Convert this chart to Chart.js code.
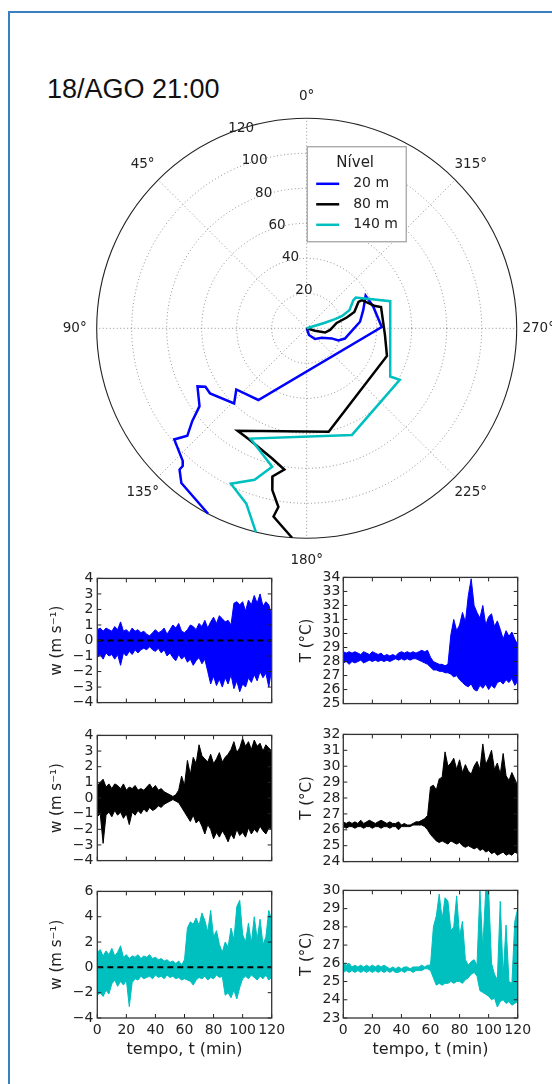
<!DOCTYPE html>
<html>
<head>
<meta charset="utf-8">
<script src="https://cdn.jsdelivr.net/npm/chart.js@4.4.0/dist/chart.umd.min.js"></script>
<style>
html, body { margin: 0; padding: 0; background: #fff; }
body { width: 552px; height: 1084px; position: relative; overflow: hidden; font-family: "DejaVu Sans", sans-serif; }
.frame { position: absolute; left: 8px; top: 11px; width: 700px; height: 1200px; border-left: 2px solid #3a7fc0; border-top: 2px solid #3a7fc0; }
.title { position: absolute; left: 47px; top: 76px; font: 27px "Liberation Sans", Arial, sans-serif; line-height: 27px; color: #111; white-space: nowrap; }
canvas { position: absolute; }
</style>
</head>
<body>
<div class="frame"></div>
<div class="title">18/AGO 21:00</div>
<script>
// ---- polar plot: direction (deg) vs time (min), one line per level ----
const niveis = ["20 m", "80 m", "140 m"];
const cores = ["#0000ff", "#000000", "#00bfbf"];
const rTicks = [20, 40, 60, 80, 100, 120];
const angTicks = [0, 45, 90, 135, 180, 225, 270, 315];

const t20 = [0, 4.0, 7.7, 10.1, 15.4, 19.4, 22.6, 24.9, 30.7, 34.0, 38.5, 40.0, 42.9, 49.4, 53.3, 59.7, 66.6, 66.8, 70.7, 75.7, 84.1, 91.8, 98.8, 103.8, 105.9, 108.6, 113.8, 120];
const dir20 = [200, 199, 218, 238, 248, 249, 255, 264, 277, 288, 299, 288, 271, 146, 131, 136, 124, 120, 118, 126, 129, 132, 130, 137, 138, 138, 141, 152];
const t80 = [0, 4.9, 10.8, 13.4, 17.4, 23.7, 28.8, 33.2, 35.4, 41.1, 44.2, 44.9, 48.5, 60.4, 70.6, 71.6, 76.9, 81.7, 86.9, 94.5, 103.4, 109.2, 112.5, 120];
const dir80 = [250, 254, 257, 266, 280, 285, 289, 297, 297, 288, 286, 265, 251, 192, 146, 153, 165, 171, 167, 168, 171, 170, 172, 176];
const t140 = [0, 5.0, 10.9, 17.0, 21.2, 26.5, 31.1, 33.1, 50.2, 55.1, 60.8, 66.2, 70.7, 81.6, 91.5, 98.8, 106.0, 120];
const dir140 = [287, 287, 287, 288, 289, 293, 301, 302, 288, 240, 241, 203, 153, 166, 161, 154, 161, 166];

// ---- time series: min / max envelope every 2 min ----
const tempo = [0,2,4,6,8,10,12,14,16,18,20,22,24,26,28,30,32,34,36,38,40,42,44,46,48,50,52,54,56,58,60,62,64,66,68,70,72,74,76,78,80,82,84,86,88,90,92,94,96,98,100,102,104,106,108,110,112,114,116,118,120];
const xTicks = [0, 20, 40, 60, 80, 100, 120];

const w20Max = [0.7,0.8,0.6,0.8,0.7,0.6,0.9,0.7,1.2,0.6, 0.7,0.5,0.8,0.6,0.7,0.5,0.6,0.4,0.3,0.5, 0.7,0.5,0.6,0.8,0.4,0.7,1.0,0.8,1.1,0.6, 0.5,0.7,1.0,0.9,0.7,1.1,0.9,1.3,0.8,1.2, 1.5,1.1,1.6,1.4,1.2,1.3,1.0,2.4,2.5,2.3, 2.5,1.9,2.6,2.3,2.9,2.4,3.0,2.2,2.5,2.3, 1.6];
const w20Min = [-1.1,-0.9,-1.2,-0.8,-1.0,-0.9,-1.2,-0.9,-1.6,-0.8, -1.0,-0.7,-0.9,-0.6,-0.8,-0.6,-0.5,-0.6,-0.4,-0.6, -0.7,-0.5,-0.8,-0.6,-1.0,-0.8,-1.1,-1.3,-0.9,-1.2, -1.0,-1.4,-1.2,-1.6,-1.3,-1.1,-1.5,-1.2,-2.0,-2.8, -2.3,-2.9,-2.5,-3.0,-2.4,-2.8,-2.2,-3.1,-2.6,-3.3, -2.8,-3.0,-2.4,-2.7,-2.2,-2.6,-2.0,-2.4,-2.1,-3.0, -1.8];
const w80Max = [0.8,1.0,1.2,0.7,0.9,0.6,0.9,0.8,0.6,0.9, 0.5,0.7,0.6,0.8,0.5,0.6,0.5,0.7,0.9,0.6, 0.8,0.5,0.6,0.4,0.3,0.2,0.1,0.2,0.5,1.4, 0.8,2.4,1.5,2.6,2.2,3.4,2.7,2.5,2.3,2.8, 2.2,2.5,2.9,2.3,2.6,2.8,3.1,3.6,2.9,3.2, 3.8,3.3,3.6,3.1,3.7,3.3,3.5,3.0,3.4,3.2, 3.0];
const w80Min = [-1.2,-1.0,-2.9,-1.1,-0.9,-1.2,-0.8,-1.1,-0.9,-1.3, -1.0,-1.7,-0.9,-1.1,-0.8,-1.0,-0.7,-0.9,-0.6,-0.8, -0.7,-0.5,-0.6,-0.4,-0.3,-0.2,-0.1,-0.2,-0.3,-0.6, -0.9,-1.2,-1.5,-1.1,-1.6,-1.4,-1.8,-2.3,-1.7,-2.0, -2.6,-2.2,-2.5,-2.1,-2.4,-2.8,-2.3,-2.6,-2.0,-2.4, -2.2,-2.5,-1.9,-2.3,-2.0,-2.2,-1.8,-2.1,-2.3,-1.9, -2.0];
const w140Max = [1.2,1.4,0.9,1.3,1.0,1.5,0.9,1.2,1.7,0.8, 1.0,0.7,0.9,0.8,1.0,0.7,0.9,0.8,1.0,0.7, 0.8,0.6,0.7,0.5,0.6,0.4,0.5,0.3,0.5,0.2, 0.6,3.1,3.6,3.4,3.9,3.3,4.3,3.7,2.8,4.5, 2.4,2.9,1.8,1.2,2.0,1.6,3.1,2.2,4.8,5.3, 2.6,2.0,3.5,1.9,4.0,2.2,3.8,1.8,2.4,4.5, 3.7];
const w140Min = [-2.2,-2.0,-2.3,-1.8,-2.1,-1.3,-1.0,-1.5,-1.1,-1.4, -1.0,-3.1,-1.2,-0.9,-1.0,-0.7,-0.9,-0.8,-0.7,-0.9, -0.6,-0.8,-0.7,-0.9,-0.6,-0.8,-0.7,-0.9,-0.8,-1.0, -0.9,-1.0,-1.1,-1.4,-1.0,-0.8,-0.9,-0.7,-1.0,-0.8, -0.9,-0.6,-0.8,-0.7,-2.2,-2.0,-2.4,-1.8,-2.5,-1.6, -0.9,-0.7,-0.9,-0.6,-0.8,-1.0,-0.7,-0.9,-0.6,-1.0, -0.8];

const T20Max = [28.7,28.6,28.7,28.6,28.7,28.6,28.5,28.7,28.6,28.5, 28.7,28.6,28.5,28.6,28.4,28.5,28.4,28.5,28.4,28.6, 28.7,28.6,28.7,28.6,28.7,28.6,28.7,28.8,28.7,28.8, 28.3,28.0,27.9,27.8,27.8,27.7,27.8,29.9,31.0,30.2, 30.6,31.5,30.8,32.7,33.9,32.0,31.5,31.1,32.0,30.6, 31.2,31.4,30.5,30.9,30.3,29.6,30.2,29.8,30.1,29.6, 29.2];
const T20Min = [27.9,28.0,27.8,28.0,27.9,28.0,28.1,27.9,28.0,28.1, 28.0,28.1,28.0,28.1,28.0,28.1,28.0,28.1,28.2,28.1, 28.2,28.1,28.2,28.1,28.2,28.2,28.1,28.0,27.9,27.8, 27.6,27.4,27.4,27.3,27.3,27.2,27.2,27.1,26.9,27.0, 26.7,26.5,26.3,26.2,26.4,26.0,25.9,26.3,26.1,26.4, 26.0,26.3,26.1,26.5,26.6,26.4,26.7,26.5,26.8,26.3, 26.6];
const T80Max = [26.5,26.4,26.5,26.4,26.5,26.4,26.6,26.4,26.5,26.6, 26.5,26.4,26.5,26.6,26.5,26.4,26.5,26.4,26.4,26.5, 26.3,26.4,26.3,26.3,26.4,26.5,26.5,26.6,26.7,26.9, 28.7,28.8,28.5,29.2,29.3,30.9,30.0,30.2,30.5,29.8, 30.4,29.6,30.1,29.7,29.5,30.0,30.3,29.8,31.4,30.1, 30.5,31.0,29.8,30.2,29.5,30.8,29.4,29.1,29.6,29.2, 28.7];
const T80Min = [26.2,26.1,26.2,26.2,26.1,26.2,26.2,26.1,26.2,26.2, 26.1,26.2,26.2,26.1,26.2,26.2,26.1,26.2,26.2,26.0, 26.2,26.2,26.2,26.2,26.3,26.3,26.3,26.3,26.2,26.0, 25.7,25.5,25.3,25.2,25.3,25.2,25.1,25.3,25.2,25.1, 25.2,25.0,24.9,25.0,24.9,24.8,24.9,24.7,24.8,24.6, 24.7,24.5,24.6,24.4,24.5,24.6,24.4,24.5,24.4,24.6, 24.5];
const T140Max = [26.0,25.9,26.0,25.8,25.9,25.8,25.9,25.8,25.9,25.8, 25.9,25.8,25.9,25.8,25.9,25.8,25.7,25.8,25.7,25.8, 25.7,25.8,25.8,25.7,25.8,25.8,25.8,25.9,25.8,25.9, 25.9,28.0,28.6,29.8,28.4,29.6,29.4,27.8,28.0,29.7, 27.5,28.3,26.2,25.9,26.1,26.2,25.9,30.0,26.8,30.0, 30.0,26.0,25.4,25.1,29.4,25.3,28.1,25.0,24.9,28.3, 29.0];
const T140Min = [25.5,25.6,25.5,25.6,25.5,25.6,25.5,25.6,25.5,25.6, 25.5,25.6,25.5,25.6,25.5,25.6,25.5,25.6,25.5,25.5, 25.6,25.5,25.6,25.6,25.5,25.6,25.6,25.6,25.7,25.7, 25.6,25.2,24.8,24.9,24.8,24.9,24.9,25.0,24.9,25.0, 25.0,24.9,25.1,25.2,25.4,25.5,25.3,24.5,24.4,24.3, 24.2,24.0,24.1,23.6,23.9,24.0,23.8,23.9,23.7,23.8, 23.9];

Chart.defaults.font.family = '"DejaVu Sans", sans-serif';
Chart.defaults.color = '#222';

function addCanvas(id, left, top, w, h) {
    const c = document.createElement('canvas');
    c.id = id; c.width = w; c.height = h;
    c.style.left = left + 'px'; c.style.top = top + 'px';
    c.style.width = w + 'px'; c.style.height = h + 'px';
    document.body.appendChild(c);
    return c;
}

function toXY(ts, ds) {
    return ts.map((t, i) => ({
        x: -t * Math.sin(ds[i] * Math.PI / 180),
        y: t * Math.cos(ds[i] * Math.PI / 180)
    }));
}

const polarGrid = {
    id: 'polarGrid',
    beforeDatasetsDraw(chart) {
        const {ctx, scales: {x, y}} = chart;
        const cx = x.getPixelForValue(0), cy = y.getPixelForValue(0);
        const rad = v => x.getPixelForValue(v) - cx;
        const R = rad(120);
        ctx.save();
        ctx.strokeStyle = 'rgba(0,0,0,0.55)';
        ctx.lineWidth = 0.8;
        ctx.setLineDash([1, 2.5]);
        rTicks.forEach(r => {
            if (r >= 120) return;
            ctx.beginPath(); ctx.arc(cx, cy, rad(r), 0, 2 * Math.PI); ctx.stroke();
        });
        angTicks.forEach(a => {
            const th = a * Math.PI / 180;
            ctx.beginPath(); ctx.moveTo(cx, cy);
            ctx.lineTo(cx - R * Math.sin(th), cy - R * Math.cos(th)); ctx.stroke();
        });
        ctx.setLineDash([]);
        ctx.strokeStyle = '#222'; ctx.lineWidth = 1.1;
        ctx.beginPath(); ctx.arc(cx, cy, R, 0, 2 * Math.PI); ctx.stroke();

        ctx.fillStyle = '#222';
        ctx.font = '13.5px "DejaVu Sans"';
        ctx.textAlign = 'center'; ctx.textBaseline = 'middle';
        angTicks.forEach(a => {
            const th = a * Math.PI / 180;
            ctx.fillText(a + '°', cx - (R + 22) * Math.sin(th), cy - (R + 22) * Math.cos(th));
        });
        const lab = 22.5 * Math.PI / 180;
        ctx.textAlign = 'left'; ctx.textBaseline = 'bottom';
        rTicks.forEach(r => {
            ctx.fillText(String(r), cx - rad(r) * Math.sin(lab) + 2, cy - rad(r) * Math.cos(lab) + 1);
        });
        ctx.restore();
    },
    afterDraw(chart) {
        const {ctx, chartArea: a} = chart;
        const lx = a.left + 210.5, ly = a.top + 28.5, lw = 99, lh = 95;
        ctx.save();
        ctx.fillStyle = '#fff';
        ctx.fillRect(lx, ly, lw, lh);
        ctx.strokeStyle = '#8a8a8a'; ctx.lineWidth = 1;
        ctx.strokeRect(lx, ly, lw, lh);
        ctx.fillStyle = '#222';
        ctx.font = '15px "DejaVu Sans"';
        ctx.textAlign = 'center'; ctx.textBaseline = 'middle';
        ctx.fillText('Nível', lx + 48, ly + 16);
        ctx.font = '14px "DejaVu Sans"';
        ctx.textAlign = 'left';
        chart.data.datasets.forEach((d, i) => {
            const yy = ly + 37 + i * 20.5;
            ctx.strokeStyle = d.borderColor; ctx.lineWidth = 2.5;
            ctx.beginPath(); ctx.moveTo(lx + 9, yy); ctx.lineTo(lx + 32, yy); ctx.stroke();
            ctx.fillText(d.label, lx + 46, yy);
        });
        ctx.restore();
    }
};

const polarCanvas = addCanvas('polar', 0, 0, 552, 575);
new Chart(polarCanvas, {
    type: 'scatter',
    data: {
        datasets: [
            {label: niveis[0], data: toXY(t20, dir20), borderColor: cores[0], order: 3},
            {label: niveis[1], data: toXY(t80, dir80), borderColor: cores[1], order: 2},
            {label: niveis[2], data: toXY(t140, dir140), borderColor: cores[2], order: 1}
        ].map(d => Object.assign(d, {showLine: true, pointRadius: 0, borderWidth: 2.5, fill: false, tension: 0}))
    },
    options: {
        responsive: false, animation: false, events: [],
        layout: {padding: {left: 96.7, top: 118.3, right: 35.3, bottom: 36.7}},
        scales: {
            x: {type: 'linear', min: -120, max: 120, display: false},
            y: {type: 'linear', min: -120, max: 120, display: false}
        },
        plugins: {legend: {display: false}, tooltip: {enabled: false}}
    },
    plugins: [polarGrid]
});

// ---- time series panels ----
const frameTicks = {
    id: 'frameTicks',
    afterDatasetsDraw(chart, args, opts) {
        const {ctx, chartArea: a, scales: {x, y}} = chart;
        ctx.save();
        if (opts.zero) {
            const py = y.getPixelForValue(0);
            ctx.strokeStyle = '#000'; ctx.lineWidth = 2; ctx.setLineDash([6, 4]);
            ctx.beginPath(); ctx.moveTo(a.left, py); ctx.lineTo(a.right, py); ctx.stroke();
            ctx.setLineDash([]);
        }
        ctx.strokeStyle = '#222'; ctx.lineWidth = 1;
        const L = 4;
        ctx.beginPath();
        x.ticks.forEach(t => {
            const px = x.getPixelForValue(t.value);
            ctx.moveTo(px, a.top); ctx.lineTo(px, a.top + L);
            ctx.moveTo(px, a.bottom); ctx.lineTo(px, a.bottom - L);
        });
        y.ticks.forEach(t => {
            const py = y.getPixelForValue(t.value);
            ctx.moveTo(a.left, py); ctx.lineTo(a.left + L, py);
            ctx.moveTo(a.right, py); ctx.lineTo(a.right - L, py);
        });
        ctx.stroke();
        ctx.strokeStyle = '#333'; ctx.lineWidth = 1.3;
        ctx.strokeRect(a.left, a.top, a.right - a.left, a.bottom - a.top);
        ctx.restore();
    }
};

const cols = [
    {left: 30, width: 262, yW: 67.3, padR: 20.3, titlePad: 17.7, title: 'w (m s⁻¹)', tickPad: 4},
    {left: 282, width: 270, yW: 61.3, padR: 34.3, titlePad: 15.7, title: 'T (°C)', tickPad: 3}
];
const rows = [
    {top: 566, height: 149},
    {top: 723, height: 150},
    {top: 879, height: 187}
];
const panels = [
    {row: 0, col: 0, lo: w20Min, hi: w20Max, color: cores[0], min: -4, max: 4, step: 1, zero: true},
    {row: 0, col: 1, lo: T20Min, hi: T20Max, color: cores[0], min: 25, max: 34, step: 1, zero: false},
    {row: 1, col: 0, lo: w80Min, hi: w80Max, color: cores[1], min: -4, max: 4, step: 1, zero: true},
    {row: 1, col: 1, lo: T80Min, hi: T80Max, color: cores[1], min: 24, max: 32, step: 1, zero: false},
    {row: 2, col: 0, lo: w140Min, hi: w140Max, color: cores[2], min: -4, max: 6, step: 2, zero: true},
    {row: 2, col: 1, lo: T140Min, hi: T140Max, color: cores[2], min: 23, max: 30, step: 1, zero: false}
];

panels.forEach((p, k) => {
    const c = cols[p.col], r = rows[p.row];
    const last = p.row === 2;
    const cv = addCanvas('p' + k, c.left, r.top, c.width, r.height);
    const band = {pointRadius: 0, borderWidth: 1, borderColor: p.color, backgroundColor: p.color, tension: 0};
    new Chart(cv, {
        type: 'line',
        data: {
            datasets: [
                Object.assign({data: tempo.map((t, i) => ({x: t, y: p.hi[i]})), fill: '+1'}, band),
                Object.assign({data: tempo.map((t, i) => ({x: t, y: p.lo[i]})), fill: false}, band)
            ]
        },
        options: {
            responsive: false, animation: false, events: [],
            layout: {padding: {left: 0, top: 10, right: c.padR, bottom: last ? 0 : 10}},
            scales: {
                x: {
                    type: 'linear', min: 0, max: 120,
                    afterBuildTicks: s => { s.ticks = xTicks.map(v => ({value: v})); },
                    grid: {display: false, drawTicks: false},
                    border: {display: false},
                    ticks: {display: last, padding: 4, font: {size: 14}, color: '#222', maxRotation: 0, autoSkip: false},
                    title: {display: last, text: 'tempo, t (min)', font: {size: 16}, color: '#222', padding: {top: 0, bottom: 6.4}},
                    afterFit: s => { s.height = last ? 48 : 0; }
                },
                y: {
                    type: 'linear', min: p.min, max: p.max,
                    grid: {display: false, drawTicks: false},
                    border: {display: false},
                    ticks: {
                        stepSize: p.step, autoSkip: false, padding: c.tickPad,
                        font: {size: 14}, color: '#222',
                        callback: v => String(v).replace('-', '\u2212')
                    },
                    title: {display: true, text: c.title, font: {size: 15}, color: '#222', padding: {top: c.titlePad, bottom: 0}},
                    afterFit: s => { s.width = c.yW; }
                }
            },
            plugins: {legend: {display: false}, tooltip: {enabled: false}, frameTicks: {zero: p.zero}}
        },
        plugins: [frameTicks]
    });
});
</script>
</body>
</html>
